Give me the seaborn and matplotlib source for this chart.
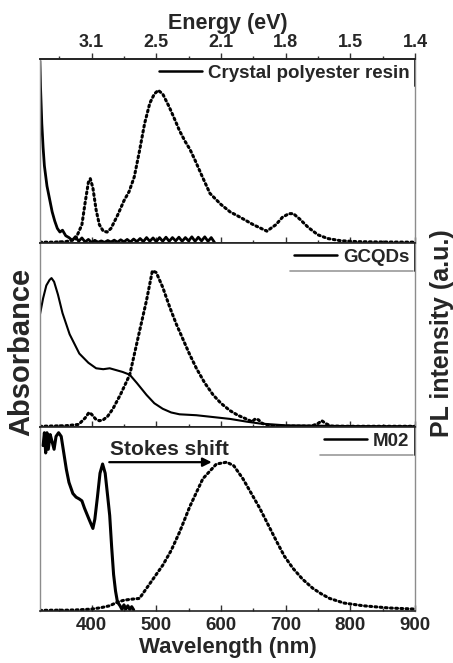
import numpy as np
import pandas as pd
import matplotlib
matplotlib.use("Agg")
import matplotlib.pyplot as plt
import seaborn as sns
from matplotlib.lines import Line2D
from matplotlib.ticker import AutoMinorLocator

# === Data (intensities normalised to panel height) ===
# Crystal polyester resin
resin_abs_wl = [320, 321, 323, 325, 327, 331, 335, 339, 343, 347, 351, 355, 360,
                365, 370, 375, 380, 385, 390, 395, 400, 405, 410, 415, 420, 425, 430,
                435, 440, 445, 450, 455, 460, 465, 470, 475, 480, 485, 490, 495, 500,
                505, 510, 515, 520, 525, 530, 535, 540, 545, 550, 555, 560, 565, 570,
                575, 580, 585, 590]
resin_abs = [0.99, 0.85, 0.65, 0.52, 0.42, 0.31, 0.24, 0.17, 0.12, 0.08, 0.06, 0.07, 0.04,
             0.03, 0.015, 0.035, 0.01, 0.028, 0.006, 0.02, 0.004, 0.015, 0.005,
             0.012, 0.004, 0.014, 0.006, 0.016, 0.005, 0.018, 0.007, 0.02, 0.006,
             0.022, 0.008, 0.025, 0.008, 0.03, 0.01, 0.028, 0.008, 0.03, 0.01,
             0.032, 0.01, 0.03, 0.012, 0.032, 0.01, 0.03, 0.012, 0.034, 0.01,
             0.032, 0.012, 0.034, 0.01, 0.03, 0.004]
resin_pl_wl = [320, 340, 360, 375, 385, 390, 395, 398, 402, 407, 412, 418, 424, 430, 440,
               450, 458, 466, 474, 482, 490, 497, 503, 510, 520, 530, 536, 545, 552,
               560, 570, 583, 600, 614, 630, 650, 671, 685, 695, 705, 712, 722, 735,
               750, 765, 785, 810, 850, 900]
resin_pl = [0.005, 0.005, 0.008, 0.02, 0.1, 0.22, 0.33, 0.35, 0.3, 0.18, 0.1, 0.065, 0.06,
            0.08, 0.15, 0.23, 0.28, 0.36, 0.5, 0.65, 0.76, 0.81, 0.83, 0.81, 0.74, 0.66,
            0.61, 0.55, 0.51, 0.45, 0.37, 0.27, 0.21, 0.17, 0.14, 0.1, 0.065, 0.1, 0.14,
            0.16, 0.16, 0.13, 0.085, 0.045, 0.025, 0.013, 0.008, 0.006, 0.005]

# GCQDs
gcqd_abs_wl = [320, 325, 330, 335, 338, 342, 348, 355, 366, 381, 395, 407, 418, 428,
               438, 448, 459, 470, 485, 497, 510, 523, 536, 562, 588, 614, 640, 660,
               680, 700, 750, 800, 900]
gcqd_abs = [0.61, 0.7, 0.77, 0.8, 0.81, 0.79, 0.72, 0.62, 0.505, 0.4, 0.35, 0.32, 0.315,
            0.32, 0.31, 0.3, 0.285, 0.24, 0.175, 0.13, 0.1, 0.08, 0.07, 0.065, 0.055,
            0.045, 0.03, 0.02, 0.015, 0.01, 0.008, 0.006, 0.005]
gcqd_pl_wl = [320, 360, 380, 390, 396, 400, 406, 412, 418, 425, 433, 445, 459, 474,
              485, 494, 500, 510, 521, 531, 541, 551, 562, 575, 588, 600, 614, 626,
              639, 648, 653, 658, 664, 675, 700, 740, 750, 756, 762, 770, 800, 900]
gcqd_pl = [0.005, 0.008, 0.015, 0.05, 0.08, 0.07, 0.045, 0.035, 0.04, 0.06, 0.1, 0.18,
           0.285, 0.52, 0.69, 0.85, 0.84, 0.76, 0.65, 0.56, 0.48, 0.4, 0.32, 0.24,
           0.175, 0.13, 0.09, 0.065, 0.045, 0.03, 0.045, 0.04, 0.02, 0.01, 0.006, 0.006,
           0.02, 0.035, 0.02, 0.006, 0.005, 0.005]

# M02
m02_abs_wl = [325, 327, 329, 331, 333, 336, 339, 342, 345, 349, 353, 357, 361, 365, 371,
              376, 381, 385, 389, 396, 402, 405, 409, 413, 417, 421, 425, 428, 431, 434,
              437, 440, 444, 447, 450, 453, 456, 459, 462, 465]
m02_abs = [0.9, 0.97, 0.86, 0.97, 0.88, 0.96, 0.92, 0.88, 0.95, 0.97, 0.95, 0.86, 0.77,
           0.7, 0.64, 0.62, 0.61, 0.6, 0.56, 0.5, 0.45, 0.5, 0.62, 0.75, 0.8, 0.75, 0.62,
           0.52, 0.35, 0.2, 0.11, 0.05, 0.03, 0.01, 0.035, 0.012, 0.03, 0.01, 0.025, 0.008]
m02_pl_wl = [320, 340, 360, 380, 400, 415, 428, 440, 450, 460, 474, 490, 510, 523, 536,
             552, 572, 593, 609, 620, 634, 647, 660, 673, 686, 698, 711, 726, 742, 755,
             768, 790, 820, 860, 900]
m02_pl = [0.005, 0.006, 0.006, 0.008, 0.012, 0.02, 0.03, 0.05, 0.06, 0.065, 0.07, 0.15,
          0.25, 0.33, 0.43, 0.57, 0.72, 0.8, 0.81, 0.79, 0.72, 0.64, 0.56, 0.47, 0.38,
          0.3, 0.235, 0.175, 0.125, 0.095, 0.07, 0.045, 0.03, 0.018, 0.012]

samples = ["Crystal polyester resin", "GCQDs", "M02"]
wl_ticks = [400, 500, 600, 700, 800, 900]

panels = [
    (resin_abs_wl, resin_abs, resin_pl_wl, resin_pl, 2.0),
    (gcqd_abs_wl, gcqd_abs, gcqd_pl_wl, gcqd_pl, 1.5),
    (m02_abs_wl, m02_abs, m02_pl_wl, m02_pl, 2.2),
]

# === Style ===
sns.set_theme(style="white")
plt.rcParams["font.family"] = ["Liberation Sans", "DejaVu Sans"]
plt.rcParams["font.weight"] = "bold"
plt.rcParams["axes.labelweight"] = "bold"

fig, axes = plt.subplots(3, 1, figsize=(4.53, 6.63), dpi=100, sharex=True)
fig.subplots_adjust(left=0.088, right=0.916, top=0.911, bottom=0.078, hspace=0)

legends = []
for ax, (awl, ab, pwl, pl, lw), name in zip(axes, panels, samples):
    sns.lineplot(x=awl, y=ab, ax=ax, color="black", lw=lw, estimator=None)
    sns.lineplot(x=pwl, y=pl, ax=ax, color="black", lw=2.2, estimator=None,
                 linestyle=(0, (0.6, 1.1)), dash_capstyle="round")
    ax.set_xlim(320, 900)
    ax.set_ylim(0, 1)
    ax.set_yticks([])
    ax.set_xticks(wl_ticks)
    ax.xaxis.set_minor_locator(AutoMinorLocator(2))
    ax.tick_params(axis="x", which="both", direction="in", bottom=True, top=False,
                   width=1, color="#333333", labelsize=13.5, pad=4)
    ax.tick_params(axis="x", which="major", length=4)
    ax.tick_params(axis="x", which="minor", length=2)
    for side in ["left", "right"]:
        ax.spines[side].set_color("#8c8c8c")
        ax.spines[side].set_linewidth(1)
    for side in ["top", "bottom"]:
        ax.spines[side].set_color("#222222")
        ax.spines[side].set_linewidth(1.2)
    handle = Line2D([], [], color="black", lw=1.8)
    leg = ax.legend([handle], [name], loc="upper right", bbox_to_anchor=(1.0, 1.0),
                    frameon=False, fontsize=13.5, handlelength=2.3, handletextpad=0.3,
                    borderaxespad=0.05, borderpad=0.25)
    legends.append(leg)

axes[2].set_xlabel("Wavelength (nm)", fontsize=16, labelpad=2)

# energy axis on top
axt = axes[0].twiny()
axt.set_xlim(320, 900)
axt.set_xticks(wl_ticks)
axt.set_xticklabels([f"{1239.84 / w:.1f}" for w in wl_ticks])
axt.xaxis.set_minor_locator(AutoMinorLocator(2))
axt.tick_params(axis="x", which="both", direction="out", labelsize=13, pad=1.5,
                width=1, color="#333333", top=True)
axt.tick_params(axis="x", which="major", length=4)
axt.tick_params(axis="x", which="minor", length=2)
for side in ["left", "right", "bottom"]:
    axt.spines[side].set_visible(False)
axt.spines["top"].set_color("#222222")
axt.spines["top"].set_linewidth(1.2)
axt.set_xlabel("Energy (eV)", fontsize=15.5, labelpad=4)

# Stokes shift arrow
axes[2].annotate("", xy=(590, 0.81), xytext=(423, 0.81),
                 arrowprops=dict(arrowstyle="-|>", color="black", lw=1.6, mutation_scale=13))
axes[2].text(521, 0.88, "Stokes shift", ha="center", va="center", fontsize=15,
             fontweight="bold")

# legend underline / right frame edge
fig.canvas.draw()
renderer = fig.canvas.get_renderer()
for i, (ax, leg) in enumerate(zip(axes, legends)):
    bb = leg.get_window_extent(renderer).transformed(ax.transAxes.inverted())
    ax.plot([1.0, 1.0], [bb.y0, 1.0], transform=ax.transAxes, color="#222222",
            lw=1.4, clip_on=False)
    if i > 0:
        ax.plot([bb.x0, 0.995], [bb.y0, bb.y0], transform=ax.transAxes,
                color="#9a9a9a", lw=1.2)

fig.text(0.046, 0.469, "Absorbance", rotation=90, ha="center", va="center",
         fontsize=21, fontweight="bold")
fig.text(0.975, 0.498, "PL intensity (a.u.)", rotation=90, ha="center", va="center",
         fontsize=18, fontweight="bold")

fig.savefig("out.png", dpi=100)
